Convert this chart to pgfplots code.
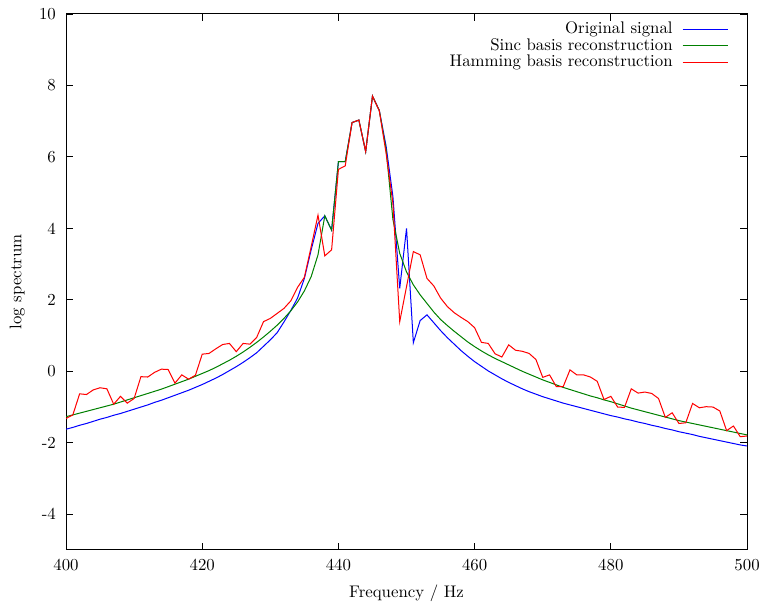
\documentclass[border=0pt]{standalone}
\usepackage{pgfplots}
\pgfplotsset{compat=1.18}
\usetikzlibrary{calc}
\definecolor{gpblue}{RGB}{0,0,255}
\definecolor{gpgreen}{RGB}{0,128,0}
\definecolor{gpred}{RGB}{255,0,0}
\newcommand{\legline}[1]{\hspace{6pt}{\color{#1}\rule[2.3pt]{26.8pt}{0.6pt}}}
\begin{document}
\begin{tikzpicture}
\begin{axis}[
  scale only axis,
  width=405.4pt, height=319.1pt,
  xmin=400, xmax=500, ymin=-5, ymax=10,
  xtick={400,420,440,460,480,500},
  xticklabels={400,420,440,460,480,500},
  ytick={-4,-2,0,2,4,6,8,10},
  yticklabels={-4,-2,0,2,4,6,8,10},
  tick align=inside,
  major tick length=4pt,
  tick style={black, line width=0.5pt},
  axis line style={black, line width=0.6pt},
  xlabel={Frequency / Hz},
  ylabel={log spectrum},
  xlabel style={at={(axis description cs:0.5,0)}, anchor=north, yshift=-17pt},
  ylabel style={at={(axis description cs:0,0.5)}, anchor=south, xshift=0pt, yshift=21pt},
  xticklabel style={yshift=-2pt},
  yticklabel style={xshift=-2.5pt},
  legend cell align=right,
  legend style={draw=none, fill=none, at={(rel axis cs:0.9805,0.993)}, anchor=north east,
    row sep=0pt, column sep=0pt, nodes={inner sep=0.4pt, text height=7pt, text depth=2pt}},
  legend image code/.code={},
]
\addplot[gpblue, line width=0.6pt] coordinates {
(400,-1.62) (401,-1.57) (402,-1.51) (403,-1.46) (404,-1.40) (405,-1.34) (406,-1.29) (407,-1.23) (408,-1.18) (409,-1.12)
(410,-1.06) (411,-1.00) (412,-0.94) (413,-0.87) (414,-0.81) (415,-0.74) (416,-0.67) (417,-0.60) (418,-0.53) (419,-0.45)
(420,-0.37) (421,-0.28) (422,-0.19) (423,-0.09) (424,0.02) (425,0.13) (426,0.25) (427,0.38) (428,0.52) (429,0.70)
(430,0.88) (431,1.08) (432,1.38) (433,1.70) (434,2.05) (435,2.60) (436,3.40) (437,4.14) (438,4.35) (439,3.95)
(440,5.87) (441,5.87) (442,6.96) (443,7.03) (444,6.15) (445,7.70) (446,7.30) (447,6.30) (448,4.89) (449,2.32)
(450,4.00) (451,0.80) (452,1.42) (453,1.58) (454,1.36) (455,1.14) (456,0.94) (457,0.76) (458,0.58) (459,0.42)
(460,0.27) (461,0.14) (462,0.01) (463,-0.10) (464,-0.21) (465,-0.31) (466,-0.40) (467,-0.49) (468,-0.57) (469,-0.64)
(470,-0.71) (471,-0.77) (472,-0.83) (473,-0.89) (474,-0.94) (475,-0.99) (476,-1.04) (477,-1.09) (478,-1.14) (479,-1.19)
(480,-1.24) (481,-1.28) (482,-1.33) (483,-1.37) (484,-1.42) (485,-1.46) (486,-1.51) (487,-1.55) (488,-1.60) (489,-1.64)
(490,-1.69) (491,-1.73) (492,-1.77) (493,-1.82) (494,-1.86) (495,-1.90) (496,-1.94) (497,-1.98) (498,-2.02) (499,-2.06)
(500,-2.09)
};
\addlegendentry{Original signal\legline{gpblue}}
\addplot[gpgreen, line width=0.6pt] coordinates {
(400,-1.27) (401,-1.22) (402,-1.17) (403,-1.12) (404,-1.07) (405,-1.02) (406,-0.97) (407,-0.92) (408,-0.86) (409,-0.80)
(410,-0.74) (411,-0.68) (412,-0.62) (413,-0.56) (414,-0.50) (415,-0.43) (416,-0.36) (417,-0.29) (418,-0.22) (419,-0.14)
(420,-0.06) (421,0.02) (422,0.11) (423,0.21) (424,0.31) (425,0.42) (426,0.54) (427,0.67) (428,0.81) (429,0.96)
(430,1.12) (431,1.29) (432,1.48) (433,1.69) (434,1.94) (435,2.25) (436,2.65) (437,3.26) (438,4.35) (439,3.95)
(440,5.87) (441,5.87) (442,6.96) (443,7.03) (444,6.15) (445,7.70) (446,7.30) (447,6.20) (448,4.25) (449,3.30)
(450,2.78) (451,2.42) (452,2.14) (453,1.90) (454,1.66) (455,1.45) (456,1.28) (457,1.12) (458,0.97) (459,0.82)
(460,0.69) (461,0.57) (462,0.46) (463,0.36) (464,0.27) (465,0.18) (466,0.09) (467,0.00) (468,-0.08) (469,-0.16)
(470,-0.24) (471,-0.31) (472,-0.38) (473,-0.45) (474,-0.51) (475,-0.57) (476,-0.63) (477,-0.69) (478,-0.74) (479,-0.80)
(480,-0.85) (481,-0.91) (482,-0.97) (483,-1.03) (484,-1.08) (485,-1.13) (486,-1.18) (487,-1.23) (488,-1.28) (489,-1.33)
(490,-1.38) (491,-1.42) (492,-1.46) (493,-1.50) (494,-1.54) (495,-1.58) (496,-1.62) (497,-1.66) (498,-1.70) (499,-1.74)
(500,-1.78)
};
\addlegendentry{Sinc basis reconstruction\legline{gpgreen}}
\addplot[gpred, line width=0.6pt] coordinates {
(400,-1.32) (401,-1.22) (402,-0.63) (403,-0.65) (404,-0.52) (405,-0.46) (406,-0.49) (407,-0.92) (408,-0.70) (409,-0.89)
(410,-0.76) (411,-0.15) (412,-0.16) (413,-0.03) (414,0.06) (415,0.05) (416,-0.33) (417,-0.10) (418,-0.22) (419,-0.11)
(420,0.48) (421,0.50) (422,0.63) (423,0.75) (424,0.78) (425,0.55) (426,0.78) (427,0.76) (428,0.95) (429,1.39)
(430,1.48) (431,1.62) (432,1.76) (433,1.97) (434,2.35) (435,2.63) (436,3.49) (437,4.37) (438,3.23) (439,3.40)
(440,5.65) (441,5.75) (442,6.96) (443,7.03) (444,6.15) (445,7.70) (446,7.29) (447,6.10) (448,4.70) (449,1.39)
(450,2.37) (451,3.35) (452,3.26) (453,2.60) (454,2.39) (455,2.05) (456,1.81) (457,1.64) (458,1.51) (459,1.39)
(460,1.22) (461,0.81) (462,0.78) (463,0.49) (464,0.40) (465,0.74) (466,0.59) (467,0.56) (468,0.50) (469,0.33)
(470,-0.17) (471,-0.10) (472,-0.43) (473,-0.43) (474,0.04) (475,-0.10) (476,-0.10) (477,-0.16) (478,-0.28) (479,-0.79)
(480,-0.70) (481,-1.00) (482,-1.01) (483,-0.49) (484,-0.61) (485,-0.58) (486,-0.62) (487,-0.76) (488,-1.29) (489,-1.16)
(490,-1.46) (491,-1.44) (492,-0.90) (493,-1.02) (494,-0.99) (495,-1.00) (496,-1.11) (497,-1.66) (498,-1.53) (499,-1.83)
(500,-1.81)
};
\addlegendentry{Hamming basis reconstruction\legline{gpred}}
\end{axis}
\pgfresetboundingbox
\path ($(current axis.south west)+(-39.3pt,-30.4pt)$) rectangle ($(current axis.north east)+(8.3pt,8.3pt)$);
\end{tikzpicture}
\end{document}
